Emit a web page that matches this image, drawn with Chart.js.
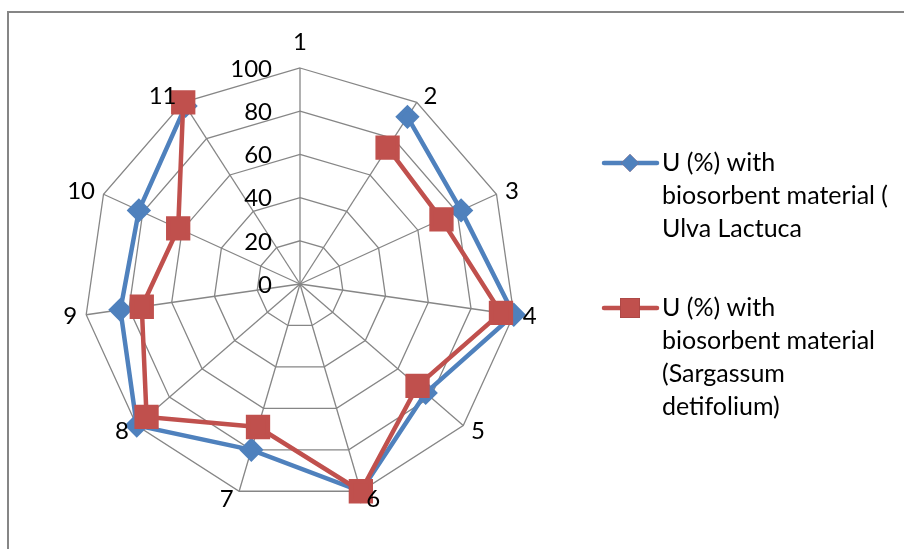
<!DOCTYPE html>
<html>
<head>
<meta charset="utf-8">
<script src="https://cdn.jsdelivr.net/npm/chart.js@4.4.1/dist/chart.umd.min.js"></script>
<style>
  html, body { margin: 0; padding: 0; background: #fff; }
  .wrap { position: relative; width: 904px; height: 549px; }
</style>
</head>
<body>
<div class="wrap"><canvas id="myChart" width="904" height="549"></canvas></div>
<script>
// categories around the radar
const categories = ['1', '2', '3', '4', '5', '6', '7', '8', '9', '10', '11'];
// U (%) values, category 1 is blank in both series
const ulvaValues = [null, 92, 82, 100, 77, 100, 80, 100, 84, 82, 98];
const sargassumValues = [null, 75, 72, 94, 72, 100, 69, 94, 74, 62, 100];
// radial tick labels
const tickValues = [0, 20, 40, 60, 80, 100];
// legend text, wrapped the same way as the original
const ulvaLegend = ['U (%) with', 'biosorbent material (', 'Ulva Lactuca'];
const sargassumLegend = ['U (%) with', 'biosorbent material', '(Sargassum', 'detifolium)'];

const blue = '#4F81BD';
const red = '#C0504D';
const gridGray = '#868686';
const fontFamily = 'Lato, "Open Sans", sans-serif';

// frame line along the top and left edge
const framePlugin = {
  id: 'frame',
  beforeDraw(chart) {
    const ctx = chart.ctx;
    ctx.save();
    ctx.strokeStyle = gridGray;
    ctx.lineWidth = 2;
    ctx.beginPath();
    ctx.moveTo(8, chart.height);
    ctx.lineTo(8, 12);
    ctx.lineTo(chart.width, 12);
    ctx.stroke();
    ctx.restore();
  }
};

// category labels placed next to the outer ring like Excel does
const pointLabelPlugin = {
  id: 'excelPointLabels',
  afterDatasetsDraw(chart) {
    const scale = chart.scales.r;
    const ctx = chart.ctx;
    ctx.save();
    ctx.font = '24px ' + fontFamily;
    ctx.fillStyle = '#000';
    ctx.textBaseline = 'middle';
    chart.data.labels.forEach((lbl, i) => {
      const angle = scale.getIndexAngle(i);
      const p = scale.getPointPosition(i, scale.drawingArea);
      const s = Math.sin(angle);
      const c = Math.cos(angle);
      if (Math.abs(s) < 0.01) {
        ctx.textAlign = 'center';
        ctx.fillText(lbl, p.x, p.y - 26 * c);
      } else {
        ctx.textAlign = s > 0 ? 'left' : 'right';
        const gap = 4 + 5 * Math.abs(s);
        ctx.fillText(lbl, p.x + Math.sign(s) * gap, p.y - 7.5 * c + 0.5);
      }
    });
    ctx.restore();
  }
};

// tick labels sit left of the top spoke, right aligned
const tickLabelPlugin = {
  id: 'tickLabels',
  afterDraw(chart) {
    const scale = chart.scales.r;
    const ctx = chart.ctx;
    ctx.save();
    ctx.font = '24px ' + fontFamily;
    ctx.fillStyle = '#000';
    ctx.textAlign = 'right';
    ctx.textBaseline = 'middle';
    tickValues.forEach(v => {
      const y = scale.yCenter - scale.getDistanceFromCenterForValue(v);
      ctx.fillText(String(v), scale.xCenter - 28, y + 1);
    });
    ctx.restore();
  }
};

// legend on the right with wrapped text
const sideLegendPlugin = {
  id: 'sideLegend',
  afterDraw(chart) {
    const ctx = chart.ctx;
    const entries = [
      { ds: chart.data.datasets[0], lines: ulvaLegend, y: 163 },
      { ds: chart.data.datasets[1], lines: sargassumLegend, y: 308 }
    ];
    ctx.save();
    entries.forEach(e => {
      ctx.strokeStyle = e.ds.borderColor;
      ctx.lineWidth = 4.5;
      ctx.lineCap = 'round';
      ctx.beginPath();
      ctx.moveTo(604, e.y);
      ctx.lineTo(657, e.y);
      ctx.stroke();
      Chart.helpers.drawPoint(ctx, {
        pointStyle: e.ds.pointStyle,
        radius: e.ds.pointRadius,
        borderWidth: 0
      }, 630, e.y);
      ctx.fillStyle = e.ds.backgroundColor;
      ctx.fill();
      ctx.fillStyle = '#000';
      ctx.font = '25px ' + fontFamily;
      ctx.textAlign = 'left';
      ctx.textBaseline = 'middle';
      e.lines.forEach((t, i) => ctx.fillText(t, 662, e.y + i * 33));
    });
    ctx.restore();
  }
};

const ctx = document.getElementById('myChart').getContext('2d');
new Chart(ctx, {
  type: 'radar',
  data: {
    labels: categories,
    datasets: [{
      label: ulvaLegend.join(' '),
      data: ulvaValues,
      order: 1,
      borderColor: blue,
      backgroundColor: blue,
      pointBackgroundColor: blue,
      pointBorderColor: blue,
      pointStyle: 'rectRot',
      pointRadius: 9,
      borderWidth: 4.5,
      fill: false,
      spanGaps: false
    }, {
      label: sargassumLegend.join(' '),
      data: sargassumValues,
      order: 0,
      borderColor: red,
      backgroundColor: red,
      pointBackgroundColor: red,
      pointBorderColor: red,
      pointStyle: 'rect',
      pointRadius: 14,
      borderWidth: 4.5,
      fill: false,
      spanGaps: false
    }]
  },
  options: {
    responsive: false,
    animation: false,
    layout: { padding: { top: 68, bottom: 49, left: 80, right: 384 } },
    plugins: {
      legend: { display: false },
      tooltip: { enabled: false }
    },
    elements: { line: { tension: 0 } },
    scales: {
      r: {
        min: 0,
        max: 100,
        beginAtZero: true,
        ticks: { stepSize: 20, display: false },
        grid: { color: gridGray, lineWidth: 1.3 },
        angleLines: { color: gridGray, lineWidth: 1.3 },
        pointLabels: { display: false }
      }
    }
  },
  plugins: [framePlugin, pointLabelPlugin, tickLabelPlugin, sideLegendPlugin]
});
</script>
</body>
</html>
